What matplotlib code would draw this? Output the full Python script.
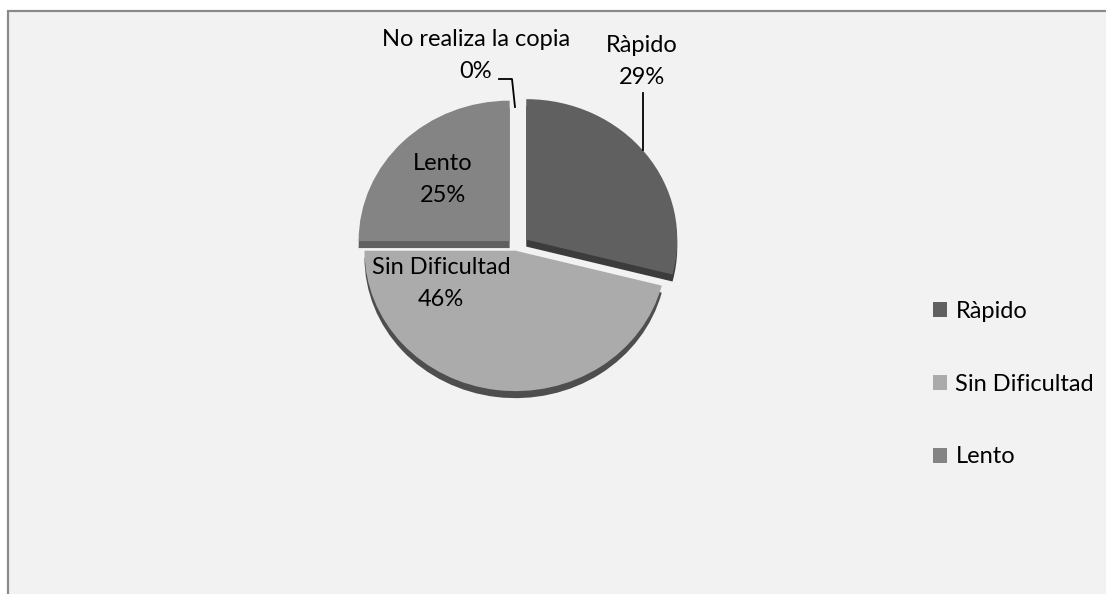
import matplotlib
matplotlib.use("Agg")
import matplotlib.pyplot as plt
from matplotlib.patches import Rectangle, Patch
from matplotlib.transforms import Affine2D

categories = ["Ràpido", "Sin Dificultad", "Lento", "No realiza la copia"]
values = [29, 46, 25, 0.0001]
pct_labels = ["29%", "46%", "25%", "0%"]

top_colors = ["#606060", "#ababab", "#848484", "#9a9a9a"]
side_colors = ["#3c3c3c", "#4e4e4e", "#606060", "#707070"]
explode_px = [13, 4, 9, 0]

W, H = 1106, 594
fig = plt.figure(figsize=(W / 100, H / 100), dpi=100, facecolor="white")
ax = fig.add_axes([0, 0, 1, 1])
ax.axis("off")

FONT = ["Lato", "DejaVu Sans"]
FS = 17

cx, cy, R = 516, 247, 151
sy = 0.93

def squash(patches, yc):
    t = Affine2D().translate(-cx, -yc).scale(1, sy).translate(cx, yc) + ax.transData
    for p in patches:
        p.set_transform(t)

# side (thickness)
side, _ = ax.pie(values, colors=side_colors, explode=explode_px, startangle=-90,
                 counterclock=True, radius=R, center=(cx, cy + 7),
                 wedgeprops=dict(linewidth=0), frame=True)
for p in side:
    p.set_zorder(2)
squash(side, cy + 7)

top, _ = ax.pie(values, colors=top_colors, explode=explode_px, startangle=-90,
                counterclock=True, radius=R, center=(cx, cy),
                wedgeprops=dict(linewidth=0), frame=True)
for p in top:
    p.set_zorder(3)
squash(top, cy)

ax.set_xlim(0, W)
ax.set_ylim(H, 0)
ax.set_aspect("auto")
ax.axis("off")

# background frame
ax.add_patch(Rectangle((8, 11), 1300, 800, facecolor="#f2f2f2",
                       edgecolor="#8a8a8a", linewidth=1.6, zorder=0))

def label(x, y, name, pct):
    ax.text(x, y - 16, name, ha="center", va="center", fontsize=FS,
            family=FONT, color="black", zorder=5)
    ax.text(x, y + 16, pct, ha="center", va="center", fontsize=FS,
            family=FONT, color="black", zorder=5)

label(642, 62, categories[0], pct_labels[0])
label(441, 283, categories[1], pct_labels[1])
label(443, 179, categories[2], pct_labels[2])
label(476, 56, categories[3], pct_labels[3])

# leader lines
ax.plot([643, 643], [93, 150], color="black", lw=1.3, zorder=6)
ax.plot([499, 512, 515], [79, 79, 107], color="black", lw=1.3, zorder=6)

handles = [Patch(facecolor=top_colors[i], edgecolor="none") for i in range(3)]
leg = fig.legend(handles, categories[:3], loc="upper left",
                 bbox_to_anchor=(933 / W, 1 - 301 / H), frameon=False,
                 prop=dict(family=FONT, size=FS), handlelength=0.6,
                 handleheight=0.6, handletextpad=0.35, labelspacing=2.19,
                 borderpad=0, borderaxespad=0)

fig.savefig("out.png", dpi=100, facecolor="white")
